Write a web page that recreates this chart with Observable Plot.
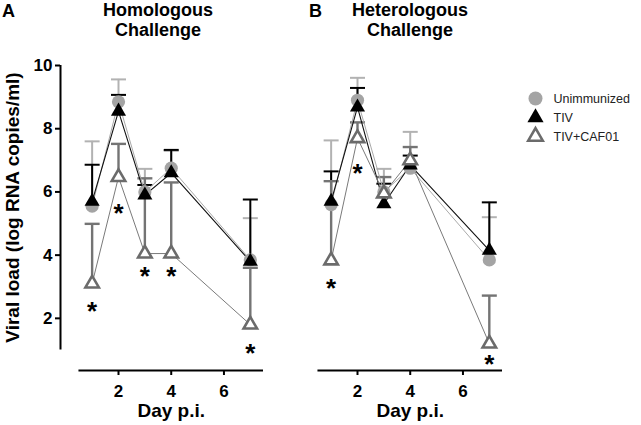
<!DOCTYPE html>
<html><head><meta charset="utf-8">
<script src="https://cdn.jsdelivr.net/npm/d3@7"></script>
<script src="https://cdn.jsdelivr.net/npm/@observablehq/plot@0.6"></script>
<style>
body{margin:0;background:#fff;font-family:"Liberation Sans",Arial,Helvetica,sans-serif;}
#root{position:relative;width:641px;height:425px;overflow:hidden;background:#fff;}
.abs{position:absolute;}
.title{font-weight:bold;font-size:18px;text-align:center;line-height:19.5px;width:200px;}
.letter{font-weight:bold;font-size:18px;line-height:19.5px;}
</style></head><body>
<div id="root">
  <div class="abs letter" style="left:2px;top:2px">A</div>
  <div class="abs title" style="left:58px;top:1px">Homologous<br>Challenge</div>
  <div class="abs letter" style="left:309px;top:2px">B</div>
  <div class="abs title" style="left:310px;top:1px">Heterologous<br>Challenge</div>
</div>
<script>
// ---------------- data ----------------
const days = [1, 2, 3, 4, 7];
const seriesNames = ["Unimmunized", "TIV", "TIV+CAF01"];

// Homologous challenge (panel A): means and upper error-bar ends
const homUnimm      = [5.55, 8.85, 6.00, 6.75, 3.85];
const homUnimmUpper = [7.60, 9.56, 6.73, 7.30, 5.17];
const homTIV        = [5.70, 8.55, 5.90, 6.60, 3.80];
const homTIVUpper   = [6.86, 9.07, 6.22, 7.33, 5.76];
const homCAF        = [3.10, 6.47, 4.05, 4.05, 1.80];
const homCAFUpper   = [4.99, 7.52, 6.43, 6.30, 3.60];
const homStarDays   = [1, 2, 3, 4, 7];
const homStarLevels = [2.41, 5.51, 3.51, 3.51, 1.08];

// Heterologous challenge (panel B)
const hetUnimm      = [5.60, 8.90, 6.00, 6.75, 3.85];
const hetUnimmUpper = [7.63, 9.61, 6.73, 7.90, 5.20];
const hetTIV        = [5.70, 8.68, 5.62, 6.85, 4.15];
const hetTIVUpper   = [6.65, 9.29, 6.26, 7.15, 5.67];
const hetCAF        = [3.83, 7.70, 5.95, 7.00, 1.20];
const hetCAFUpper   = [6.34, 8.20, 6.47, 7.42, 2.72];
const hetStarDays   = [1, 2, 7];
const hetStarLevels = [3.13, 6.77, 0.73];

// axis settings
const xTicks = [2, 4, 6];
const yTicks = [2, 4, 6, 8, 10];
const xDomain = [-0.2, 7.5];
const yDomain = [0.35, 10];
const xAxisExtent = [0.5, 7.5];
const yAxisExtent = [1, 10];
const xLabel = "Day p.i.";
const yLabel = "Viral load (log RNA copies/ml)";

// ---------------- styles ----------------
const styles = {
  "Unimmunized": {symbol: "circle", r: 6.6, fill: "#a4a4a4", stroke: "none", sw: 0, bar: "#b2b2b2", barW: 2, line: "#aaaaaa", lineW: 1},
  "TIV":         {symbol: "triangle", r: 5.6, fill: "#000", stroke: "none", sw: 0, bar: "#000", barW: 2, line: "#111", lineW: 1.1},
  "TIV+CAF01":   {symbol: "triangle", r: 5.0, fill: "#fff", stroke: "#6b6b6b", sw: 2.6, bar: "#747474", barW: 2.4, line: "#7a7a7a", lineW: 1}
};
const capSymbol = {draw(ctx, size) { const w = Math.sqrt(size / Math.PI); ctx.moveTo(-w, 0); ctx.lineTo(w, 0); }};
const FONT = '"Liberation Sans", Arial, Helvetica, sans-serif';

function rows(means, uppers) {
  return days.map((d, i) => ({day: d, mean: means[i], upper: uppers[i]}));
}

function panel(seriesData, starDays, starLevels, showY) {
  const marks = [];
  for (const [name, data] of seriesData) {
    const s = styles[name];
    marks.push(Plot.ruleX(data, {x: "day", y1: "mean", y2: "upper", stroke: s.bar, strokeWidth: s.barW}));
    marks.push(Plot.dot(data, {x: "day", y: "upper", symbol: capSymbol, r: 7.5, fill: "none", stroke: s.bar, strokeWidth: s.barW}));
  }
  for (const [name, data] of seriesData) {
    const s = styles[name];
    marks.push(Plot.line(data, {x: "day", y: "mean", stroke: s.line, strokeWidth: s.lineW}));
  }
  for (const [name, data] of seriesData) {
    const s = styles[name];
    marks.push(Plot.dot(data, {x: "day", y: "mean", symbol: s.symbol, r: s.r, fill: s.fill, stroke: s.stroke, strokeWidth: s.sw}));
  }
  const stars = starDays.map((d, i) => ({day: d, y: starLevels[i]}));
  marks.push(Plot.text(stars, {x: "day", y: "y", text: () => "*", fontSize: 26, fontWeight: "bold", dy: 6.5, fill: "#000"}));
  // x axis
  marks.push(Plot.ruleY([yDomain[0]], {x1: xAxisExtent[0], x2: xAxisExtent[1], strokeWidth: 2, stroke: "#000"}));
  marks.push(Plot.axisX({ticks: xTicks, tickSize: 5, tickPadding: 9, fontSize: 17, fontWeight: "bold", label: null, strokeWidth: 2}));
  marks.push(Plot.text([xLabel], {x: () => (xAxisExtent[0] + xAxisExtent[1]) / 2, frameAnchor: "bottom", lineAnchor: "top", dy: 33, fontSize: 19, fontWeight: "bold"}));
  if (showY) {
    marks.push(Plot.ruleX([xDomain[0]], {y1: yAxisExtent[0], y2: yAxisExtent[1], strokeWidth: 2, stroke: "#000"}));
    marks.push(Plot.axisY({ticks: yTicks, tickSize: 5, tickPadding: 3, fontSize: 17, fontWeight: "bold", label: null, strokeWidth: 2}));
    marks.push(Plot.text([yLabel], {frameAnchor: "left", textAnchor: "middle", rotate: -90, dx: -48, dy: -10.5, fontSize: 19, fontWeight: "bold"}));
  }
  return Plot.plot({
    width: 300, height: 425,
    marginLeft: 60, marginRight: 37, marginTop: 65, marginBottom: 55,
    x: {domain: xDomain},
    y: {domain: yDomain, axis: showY ? undefined : null},
    style: {background: "none", overflow: "visible", fontFamily: FONT, color: "#000"},
    marks
  });
}

const root = document.getElementById("root");

const plotA = panel([
  ["Unimmunized", rows(homUnimm, homUnimmUpper)],
  ["TIV", rows(homTIV, homTIVUpper)],
  ["TIV+CAF01", rows(homCAF, homCAFUpper)]
], homStarDays, homStarLevels, true);
plotA.style.position = "absolute"; plotA.style.left = "0px"; plotA.style.top = "0px";
root.appendChild(plotA);

const plotB = panel([
  ["Unimmunized", rows(hetUnimm, hetUnimmUpper)],
  ["TIV", rows(hetTIV, hetTIVUpper)],
  ["TIV+CAF01", rows(hetCAF, hetCAFUpper)]
], hetStarDays, hetStarLevels, false);
plotB.style.position = "absolute"; plotB.style.left = "239px"; plotB.style.top = "0px";
root.appendChild(plotB);

// legend
const legendMarks = seriesNames.map(name => {
  const s = styles[name];
  return Plot.dot([name], {y: d => d, frameAnchor: "left", dx: 15, symbol: s.symbol, r: s.r + 0.4, fill: s.fill, stroke: s.stroke, strokeWidth: s.sw});
});
legendMarks.push(Plot.text(seriesNames, {y: d => d, frameAnchor: "left", dx: 33, fontSize: 12.5, fill: "#222"}));
const legend = Plot.plot({
  width: 121, height: 65, marginTop: 12, marginBottom: 14, marginLeft: 0, marginRight: 0,
  y: {domain: seriesNames, type: "point", padding: 0, axis: null},
  style: {background: "none", overflow: "visible", fontFamily: FONT},
  marks: legendMarks
});
legend.style.position = "absolute"; legend.style.left = "520px"; legend.style.top = "85px";
root.appendChild(legend);
</script>
</body></html>
